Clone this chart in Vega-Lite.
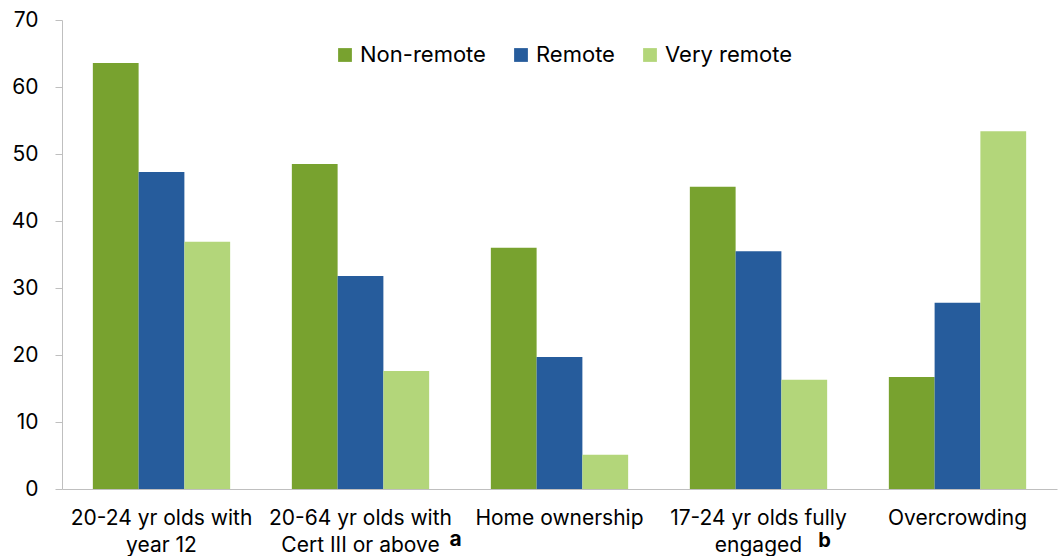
{
  "$schema": "https://vega.github.io/schema/vega-lite/v6.json",
  "width": 995,
  "height": 469,
  "autosize": "none",
  "padding": {"left": 62, "top": 20, "right": 2, "bottom": 67},
  "background": "white",
  "config": {
    "font": "Inter",
    "view": {"stroke": null},
    "axis": {"grid": false, "domainColor": "#BFBFBF", "tickColor": "#BFBFBF", "labelColor": "#000000", "labelFont": "Inter", "labelFontSize": 21, "labelLimit": 400}
  },
  "datasets": {
    "bars": [
      {"cat": "20-24 yr olds with|year 12", "series": "Non-remote", "value": 63.6},
      {"cat": "20-24 yr olds with|year 12", "series": "Remote", "value": 47.3},
      {"cat": "20-24 yr olds with|year 12", "series": "Very remote", "value": 36.9},
      {"cat": "20-64 yr olds with|Cert III or above", "series": "Non-remote", "value": 48.5},
      {"cat": "20-64 yr olds with|Cert III or above", "series": "Remote", "value": 31.8},
      {"cat": "20-64 yr olds with|Cert III or above", "series": "Very remote", "value": 17.6},
      {"cat": "Home ownership", "series": "Non-remote", "value": 36.0},
      {"cat": "Home ownership", "series": "Remote", "value": 19.7},
      {"cat": "Home ownership", "series": "Very remote", "value": 5.1},
      {"cat": "17-24 yr olds fully|engaged", "series": "Non-remote", "value": 45.1},
      {"cat": "17-24 yr olds fully|engaged", "series": "Remote", "value": 35.5},
      {"cat": "17-24 yr olds fully|engaged", "series": "Very remote", "value": 16.3},
      {"cat": "Overcrowding", "series": "Non-remote", "value": 16.7},
      {"cat": "Overcrowding", "series": "Remote", "value": 27.8},
      {"cat": "Overcrowding", "series": "Very remote", "value": 53.4}
    ],
    "notes": [
      {"cat": "20-64 yr olds with|Cert III or above", "note": "a"},
      {"cat": "17-24 yr olds fully|engaged", "note": "b"}
    ]
  },
  "layer": [
    {
      "data": {"name": "bars"},
      "mark": {"type": "bar"},
      "encoding": {
        "x": {
          "field": "cat", "type": "nominal",
          "sort": ["20-24 yr olds with|year 12", "20-64 yr olds with|Cert III or above", "Home ownership", "17-24 yr olds fully|engaged", "Overcrowding"],
          "scale": {"paddingInner": 0.31, "paddingOuter": 0.155},
          "axis": {"title": null, "labelAngle": 0, "ticks": false, "labelPadding": 18, "labelExpr": "split(datum.label, '|')", "labelLineHeight": 27}
        },
        "xOffset": {"field": "series", "type": "nominal", "sort": ["Non-remote", "Remote", "Very remote"], "scale": {"paddingInner": 0, "paddingOuter": 0}},
        "y": {
          "field": "value", "type": "quantitative",
          "scale": {"domain": [0, 70], "nice": false},
          "axis": {"title": null, "values": [0, 10, 20, 30, 40, 50, 60, 70], "tickSize": 7, "labelPadding": 17}
        },
        "color": {
          "field": "series", "type": "nominal",
          "scale": {"domain": ["Non-remote", "Remote", "Very remote"], "range": ["#78A22F", "#265C9C", "#B3D67A"]},
          "legend": {"title": null, "orient": "none", "direction": "horizontal", "legendX": 272, "legendY": 24, "symbolType": "square", "symbolSize": 190, "symbolStrokeWidth": 0, "labelFontSize": 22, "labelColor": "#000000", "labelFont": "Inter", "columnPadding": 24, "labelOffset": 4}
        }
      }
    },
    {
      "data": {"name": "notes"},
      "transform": [{"filter": "datum.note === 'a'"}],
      "mark": {"type": "text", "fontWeight": "bold", "fontSize": 21, "baseline": "alphabetic", "align": "center", "color": "#000000", "dy": 57, "dx": 95},
      "encoding": {
        "x": {"field": "cat", "type": "nominal", "sort": ["20-24 yr olds with|year 12", "20-64 yr olds with|Cert III or above", "Home ownership", "17-24 yr olds fully|engaged", "Overcrowding"]},
        "y": {"datum": 0, "type": "quantitative"},
        "text": {"field": "note"}
      }
    },
    {
      "data": {"name": "notes"},
      "transform": [{"filter": "datum.note === 'b'"}],
      "mark": {"type": "text", "fontWeight": "bold", "fontSize": 20, "baseline": "alphabetic", "align": "center", "color": "#000000", "dy": 58, "dx": 66},
      "encoding": {
        "x": {"field": "cat", "type": "nominal", "sort": ["20-24 yr olds with|year 12", "20-64 yr olds with|Cert III or above", "Home ownership", "17-24 yr olds fully|engaged", "Overcrowding"]},
        "y": {"datum": 0, "type": "quantitative"},
        "text": {"field": "note"}
      }
    }
  ]
}
